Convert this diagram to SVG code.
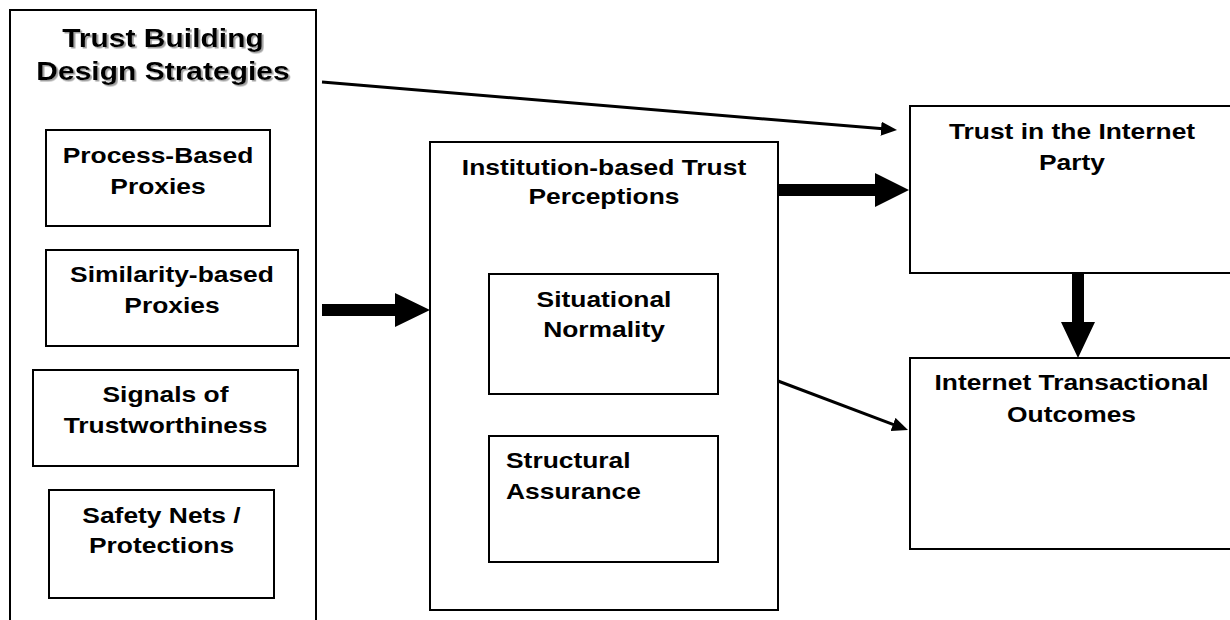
<svg xmlns="http://www.w3.org/2000/svg" width="1230" height="620" viewBox="0 0 1230 620">
<style>
  .box { fill: #fff; stroke: #000; stroke-width: 2; }
  .lbl { font-family: "Liberation Sans", Arial, sans-serif; font-weight: bold; font-size: 22px; fill: #000; }
  .mid { text-anchor: middle; }
  .title { font-size: 25px; filter: url(#shadow); }
  .thin { stroke: #000; stroke-width: 3; fill: none; marker-end: url(#head); }
  .block { fill: #000; stroke: none; }
</style>
<defs>
  <filter id="shadow" x="-10%" y="-20%" width="120%" height="150%">
    <feDropShadow dx="1.5" dy="1.5" stdDeviation="0.6" flood-color="#888" flood-opacity="0.8"/>
  </filter>
  <marker id="head" markerUnits="userSpaceOnUse" markerWidth="18" markerHeight="16" refX="2" refY="7" orient="auto">
    <path d="M0,0 L16,7 L0,14 z" fill="#000"/>
  </marker>
</defs>
<rect width="1230" height="620" fill="#fff"/>

<g id="trust-building">
  <rect class="box" x="10" y="10" width="306" height="630"/>
  <text class="lbl mid title" transform="translate(163,47) scale(1.2,1)">Trust Building</text>
  <text class="lbl mid title" transform="translate(163,80) scale(1.2,1)">Design Strategies</text>
</g>
<g id="process-based">
  <rect class="box" x="46" y="130" width="224" height="96"/>
  <text class="lbl mid" transform="translate(158,163) scale(1.2,1)">Process-Based</text>
  <text class="lbl mid" transform="translate(158,194) scale(1.2,1)">Proxies</text>
</g>
<g id="similarity-based">
  <rect class="box" x="46" y="250" width="252" height="96"/>
  <text class="lbl mid" transform="translate(172,282) scale(1.2,1)">Similarity-based</text>
  <text class="lbl mid" transform="translate(172,313) scale(1.2,1)">Proxies</text>
</g>
<g id="signals">
  <rect class="box" x="33" y="370" width="265" height="96"/>
  <text class="lbl mid" transform="translate(165.5,402) scale(1.2,1)">Signals of</text>
  <text class="lbl mid" transform="translate(165.5,433) scale(1.2,1)">Trustworthiness</text>
</g>
<g id="safety-nets">
  <rect class="box" x="49" y="490" width="225" height="108"/>
  <text class="lbl mid" transform="translate(161.5,523) scale(1.2,1)">Safety Nets /</text>
  <text class="lbl mid" transform="translate(161.5,553) scale(1.2,1)">Protections</text>
</g>

<g id="institution-based">
  <rect class="box" x="430" y="142" width="348" height="468"/>
  <text class="lbl mid" transform="translate(604,175) scale(1.2,1)">Institution-based Trust</text>
  <text class="lbl mid" transform="translate(604,204) scale(1.2,1)">Perceptions</text>
</g>
<g id="situational">
  <rect class="box" x="489" y="274" width="229" height="120"/>
  <text class="lbl mid" transform="translate(604,307) scale(1.2,1)">Situational</text>
  <text class="lbl mid" transform="translate(604,337) scale(1.2,1)">Normality</text>
</g>
<g id="structural">
  <rect class="box" x="489" y="436" width="229" height="126"/>
  <text class="lbl" transform="translate(506,468) scale(1.2,1)">Structural</text>
  <text class="lbl" transform="translate(506,499) scale(1.2,1)">Assurance</text>
</g>

<g id="trust-internet-party">
  <rect class="box" x="910" y="106" width="330" height="167"/>
  <text class="lbl mid" transform="translate(1072,139) scale(1.2,1)">Trust in the Internet</text>
  <text class="lbl mid" transform="translate(1072,170) scale(1.2,1)">Party</text>
</g>
<g id="transactional-outcomes">
  <rect class="box" x="910" y="358" width="330" height="191"/>
  <text class="lbl mid" transform="translate(1071.5,390) scale(1.2,1)">Internet Transactional</text>
  <text class="lbl mid" transform="translate(1071.5,422) scale(1.2,1)">Outcomes</text>
</g>

<g id="connectors">
  <line class="thin" x1="322" y1="82" x2="883.05" y2="128.84"/>
  <line class="thin" x1="778" y1="381" x2="894.89" y2="425.09"/>
  <polygon class="block" points="322,304 395,304 395,293 430,310 395,327 395,316 322,316"/>
  <polygon class="block" points="779,184 875,184 875,173 909,190 875,207 875,196 779,196"/>
  <polygon class="block" points="1072,274 1084,274 1084,322 1095,322 1078,358 1061,322 1072,322"/>
</g>
</svg>
